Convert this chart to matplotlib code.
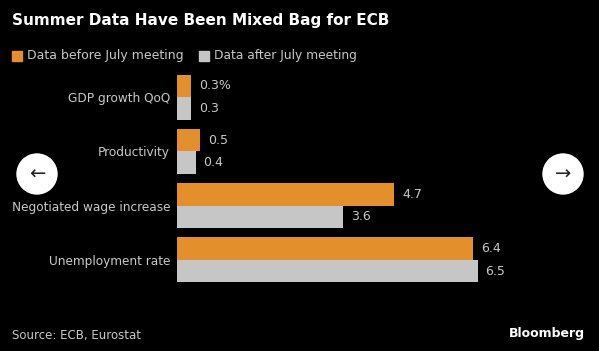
import matplotlib
matplotlib.use("Agg")
import matplotlib.pyplot as plt
from matplotlib.patches import Circle, Rectangle
import numpy as np

# Data
categories = ["GDP growth QoQ", "Productivity", "Negotiated wage increase", "Unemployment rate"]
before_july = [0.3, 0.5, 4.7, 6.4]
after_july = [0.3, 0.4, 3.6, 6.5]
series_names = ["Data before July meeting", "Data after July meeting"]

ORANGE = "#E38F2C"
GRAY = "#C6C6C6"
TEXT = "#C8C8C8"
BG = "#000000"

fig = plt.figure(figsize=(5.99, 3.51), dpi=100, facecolor=BG)
ax = fig.add_axes([177 / 599, 1 - 287 / 351, (547 - 177) / 599, (287 - 70) / 351])
ax.set_facecolor(BG)

y = np.arange(len(categories))
h = 0.415
ax.barh(y - h / 2, before_july, height=h, color=ORANGE)
ax.barh(y + h / 2, after_july, height=h, color=GRAY)

for i, (b, a) in enumerate(zip(before_july, after_july)):
    lab = f"{b}%" if i == 0 else f"{b}"
    ax.text(b + 0.17, i - h / 2, lab, color=TEXT, fontsize=9, va="center", ha="left")
    ax.text(a + 0.17, i + h / 2, f"{a}", color=TEXT, fontsize=9, va="center", ha="left")

ax.set_xlim(0, 8)
ax.set_ylim(-0.5, len(categories) - 0.5)
ax.invert_yaxis()
ax.set_yticks(y)
ax.set_yticklabels(categories, color=TEXT, fontsize=8.7)
ax.tick_params(axis="y", length=0, pad=5)
ax.set_xticks([])
for s in ax.spines.values():
    s.set_visible(False)

# Title and legend
fig.text(12 / 599, 1 - 21 / 351, "Summer Data Have Been Mixed Bag for ECB",
         color="white", fontsize=11, fontweight="bold", va="center", ha="left")
fig.patches.append(Rectangle((12 / 599, 1 - 61 / 351), 10 / 599, 10 / 351,
                             transform=fig.transFigure, color=ORANGE))
fig.text(27 / 599, 1 - 56 / 351, series_names[0], color=TEXT, fontsize=9, va="center", ha="left")
fig.patches.append(Rectangle((199 / 599, 1 - 61 / 351), 10 / 599, 10 / 351,
                             transform=fig.transFigure, color=GRAY))
fig.text(214 / 599, 1 - 56 / 351, series_names[1], color=TEXT, fontsize=8.8, va="center", ha="left")

# Footer
fig.text(12 / 599, 1 - 336 / 351, "Source: ECB, Eurostat", color=TEXT, fontsize=8.5, va="center", ha="left")
fig.text(585 / 599, 1 - 334 / 351, "Bloomberg", color="white", fontsize=9, fontweight="bold",
         va="center", ha="right")

# Carousel arrow buttons
for cx, arrow in [(37, "\u2190"), (563, "\u2192")]:
    fig.patches.append(Circle((cx, 351 - 174), 20, transform=None, color="white", zorder=5))
    fig.text(cx / 599, 1 - 174 / 351, arrow, color="#222222", fontsize=14,
             va="center", ha="center", zorder=6)

fig.savefig("out.png", dpi=100, facecolor=BG)
